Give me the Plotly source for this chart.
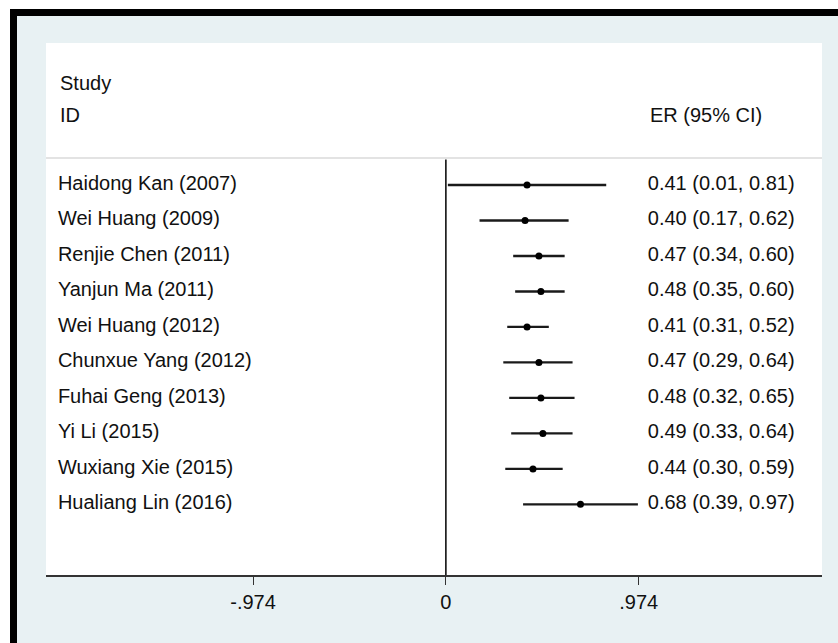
import plotly.graph_objects as go

studies = ["Haidong Kan (2007)", "Wei Huang (2009)", "Renjie Chen (2011)", "Yanjun Ma (2011)",
           "Wei Huang (2012)", "Chunxue Yang (2012)", "Fuhai Geng (2013)", "Yi Li (2015)",
           "Wuxiang Xie (2015)", "Hualiang Lin (2016)"]
er = [0.41, 0.40, 0.47, 0.48, 0.41, 0.47, 0.48, 0.49, 0.44, 0.68]
lo = [0.01, 0.17, 0.34, 0.35, 0.31, 0.29, 0.32, 0.33, 0.30, 0.39]
hi = [0.81, 0.62, 0.60, 0.60, 0.52, 0.64, 0.65, 0.64, 0.59, 0.97]
tick_vals = [-0.974, 0, 0.974]
tick_text = ["-.974", "0", ".974"]

W, H = 838, 643
ML, MR, MT, MB = 46, 16, 43, 68
PW, PH = W - ML - MR, H - MT - MB

FONT = "Liberation Sans, Arial, sans-serif"
FS = 20
BG = "#E8F1F3"

def px(x):
    return (x - ML) / PW

def py(y):
    return 1 - (y - MT) / PH

rows = list(range(len(studies)))
fig = go.Figure()

# CI lines
for i in rows:
    fig.add_trace(go.Scatter(x=[lo[i], hi[i]], y=[i, i], mode="lines",
                             line=dict(color="#1a1a1a", width=2.4),
                             showlegend=False, hoverinfo="skip"))
# point estimates
fig.add_trace(go.Scatter(x=er, y=rows, mode="markers",
                         marker=dict(color="black", size=7, symbol="circle"),
                         showlegend=False))
# study labels
fig.add_trace(go.Scatter(x=[-1.96] * len(studies), y=rows, mode="text", text=studies,
                         textposition="middle right",
                         textfont=dict(family=FONT, size=FS, color="#111"),
                         showlegend=False, hoverinfo="skip"))
# ER labels
er_txt = [f"{e:.2f} ({l:.2f}, {h:.2f})" for e, l, h in zip(er, lo, hi)]
fig.add_trace(go.Scatter(x=[1.02] * len(studies), y=rows, mode="text", text=er_txt,
                         textposition="middle right",
                         textfont=dict(family=FONT, size=FS, color="#111"),
                         showlegend=False, hoverinfo="skip"))

annos = [
    dict(x=-1.96, y=-2.87, text="Study", xanchor="left", yanchor="middle", showarrow=False,
         xref="x", yref="y", font=dict(family=FONT, size=FS, color="#111")),
    dict(x=-1.96, y=-1.97, text="ID", xanchor="left", yanchor="middle", showarrow=False,
         xref="x", yref="y", font=dict(family=FONT, size=FS, color="#111")),
    dict(x=1.02, y=-1.97, text="ER (95% CI)", xanchor="left", yanchor="middle", showarrow=False,
         xref="x", yref="y", font=dict(family=FONT, size=FS, color="#111")),
]

shapes = [
    # header separator
    dict(type="line", xref="paper", yref="y", x0=0, x1=1, y0=-0.76, y1=-0.76,
         line=dict(color="#c8c8c8", width=1.2)),
    # null line
    dict(type="line", xref="x", yref="y", x0=0, x1=0, y0=-0.72, y1=10.99,
         line=dict(color="black", width=1.5)),
    # outer white strips
    dict(type="rect", xref="paper", yref="paper", x0=px(0), x1=px(W), y0=py(9), y1=py(0),
         fillcolor="white", line=dict(width=0), layer="above"),
    dict(type="rect", xref="paper", yref="paper", x0=px(0), x1=px(10), y0=py(H), y1=py(0),
         fillcolor="white", line=dict(width=0), layer="above"),
    # black border
    dict(type="rect", xref="paper", yref="paper", x0=px(10), x1=px(W), y0=py(16), y1=py(9),
         fillcolor="black", line=dict(width=0), layer="above"),
    dict(type="rect", xref="paper", yref="paper", x0=px(10), x1=px(17), y0=py(H), y1=py(9),
         fillcolor="black", line=dict(width=0), layer="above"),
]

fig.update_layout(
    width=W, height=H,
    margin=dict(l=ML, r=MR, t=MT, b=MB, pad=0),
    paper_bgcolor=BG, plot_bgcolor="white",
    xaxis=dict(range=[-2.02, 1.90], tickvals=tick_vals, ticktext=tick_text,
               showgrid=False, zeroline=False, showline=True, linecolor="#333", linewidth=1.5,
               ticks="outside", ticklen=8, tickwidth=1.2, tickcolor="#333",
               tickfont=dict(family=FONT, size=FS, color="#111"), fixedrange=True),
    yaxis=dict(range=[10.99, -4.0], showgrid=False, zeroline=False, showticklabels=False,
               showline=False, fixedrange=True),
    annotations=annos, shapes=shapes,
)

fig.write_html("out.html", config={"displayModeBar": False},
               post_script="document.body.style.margin='0';document.body.style.padding='0';document.body.style.overflow='hidden';")
